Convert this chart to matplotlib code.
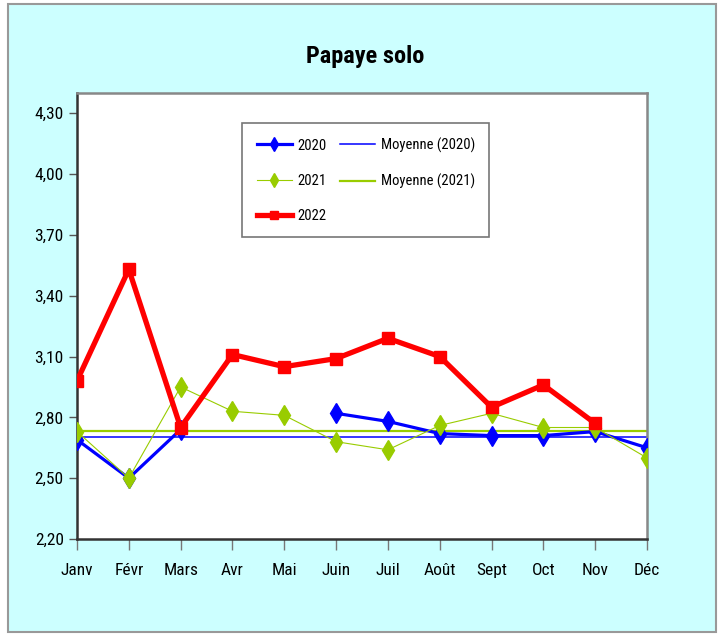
import numpy as np
import matplotlib.pyplot as plt
from matplotlib.patches import Rectangle

plt.rcParams['font.family'] = ['Liberation Sans Narrow', 'Roboto Condensed', 'DejaVu Sans']

# data
months = ['Janv', 'Févr', 'Mars', 'Avr', 'Mai', 'Juin', 'Juil', 'Août', 'Sept', 'Oct', 'Nov', 'Déc']
prix_2020 = [2.69, 2.50, 2.74, np.nan, np.nan, 2.82, 2.78, 2.72, 2.71, 2.71, 2.73, 2.65]
prix_2021 = [2.73, 2.50, 2.95, 2.83, 2.81, 2.68, 2.64, 2.76, 2.82, 2.75, 2.75, 2.60]
prix_2022 = [2.98, 3.53, 2.75, 3.11, 3.05, 3.09, 3.19, 3.10, 2.85, 2.96, 2.77, np.nan]
yticks = [2.20, 2.50, 2.80, 3.10, 3.40, 3.70, 4.00, 4.30]

moy_2020 = np.nanmean(prix_2020)
moy_2021 = np.nanmean(prix_2021)

BLUE = '#0000FF'
GREEN = '#99CC00'
RED = '#FF0000'
CYAN = '#CCFFFF'

fig = plt.figure(figsize=(7.25, 6.34), dpi=100)
fig.patch.set_facecolor('white')
# cyan chart area with grey frame
fig.patches.append(Rectangle((8 / 725, 1 - 632 / 634), 708 / 725, 628 / 634,
                             transform=fig.transFigure, facecolor=CYAN,
                             edgecolor='#999999', linewidth=1.5, zorder=-5))

ax = fig.add_axes([77 / 725, 1 - 539 / 634, 570 / 725, 446 / 634])
ax.set_facecolor('white')

x = np.arange(len(months))
h_m20, = ax.plot([0, 1], [moy_2020, moy_2020], transform=ax.get_yaxis_transform(),
                 color=BLUE, lw=1.1, zorder=2, label='Moyenne (2020)')
h_m21, = ax.plot([0, 1], [moy_2021, moy_2021], transform=ax.get_yaxis_transform(),
                 color=GREEN, lw=1.6, zorder=2, label='Moyenne (2021)')
h20, = ax.plot(x, prix_2020, color=BLUE, lw=2.3, marker='d', ms=10,
               mfc=BLUE, mec=BLUE, zorder=3, label='2020')
h21, = ax.plot(x, prix_2021, color=GREEN, lw=0.8, marker='d', ms=10,
               mfc=GREEN, mec=GREEN, zorder=4, label='2021')
h22, = ax.plot(x, prix_2022, color=RED, lw=3.8, marker='s', ms=8.5,
               mfc=RED, mec=RED, zorder=5, label='2022')

ax.set_xlim(0, len(months) - 1)
ax.set_ylim(2.20, 4.40)
ax.set_xticks(x)
ax.set_xticklabels(months, fontsize=12.5)
ax.set_yticks(yticks)
ax.set_yticklabels([f'{v:.2f}'.replace('.', ',') for v in yticks], fontsize=12.5)
ax.tick_params(axis='x', direction='out', length=8, width=1, color='#777777', pad=9)
ax.tick_params(axis='y', direction='out', length=5.5, width=1, color='#555555', pad=4)

for side in ['left', 'bottom']:
    ax.spines[side].set_color('#333333')
    ax.spines[side].set_linewidth(1.8)
for side in ['top', 'right']:
    ax.spines[side].set_color('#888888')
    ax.spines[side].set_linewidth(1.8)

fig.text(365 / 725, 1 - 57 / 634, 'Papaye solo', ha='center', va='center',
         fontsize=17.5, fontweight='bold')

leg = ax.legend([h20, h21, h22, h_m20, h_m21],
                ['2020', '2021', '2022', 'Moyenne (2020)', 'Moyenne (2021)'],
                ncol=2, loc='upper left', bbox_to_anchor=(242 / 725, 1 - 123 / 634),
                bbox_transform=fig.transFigure, borderaxespad=0, fancybox=False,
                framealpha=1, edgecolor='#777777', fontsize=10.5, handlelength=2.4,
                handletextpad=0.4, labelspacing=1.45, columnspacing=0.9,
                borderpad=1.0, markerscale=0.7)
leg.get_frame().set_linewidth(1.2)

fig.savefig('out.png', dpi=100, facecolor=fig.get_facecolor())
